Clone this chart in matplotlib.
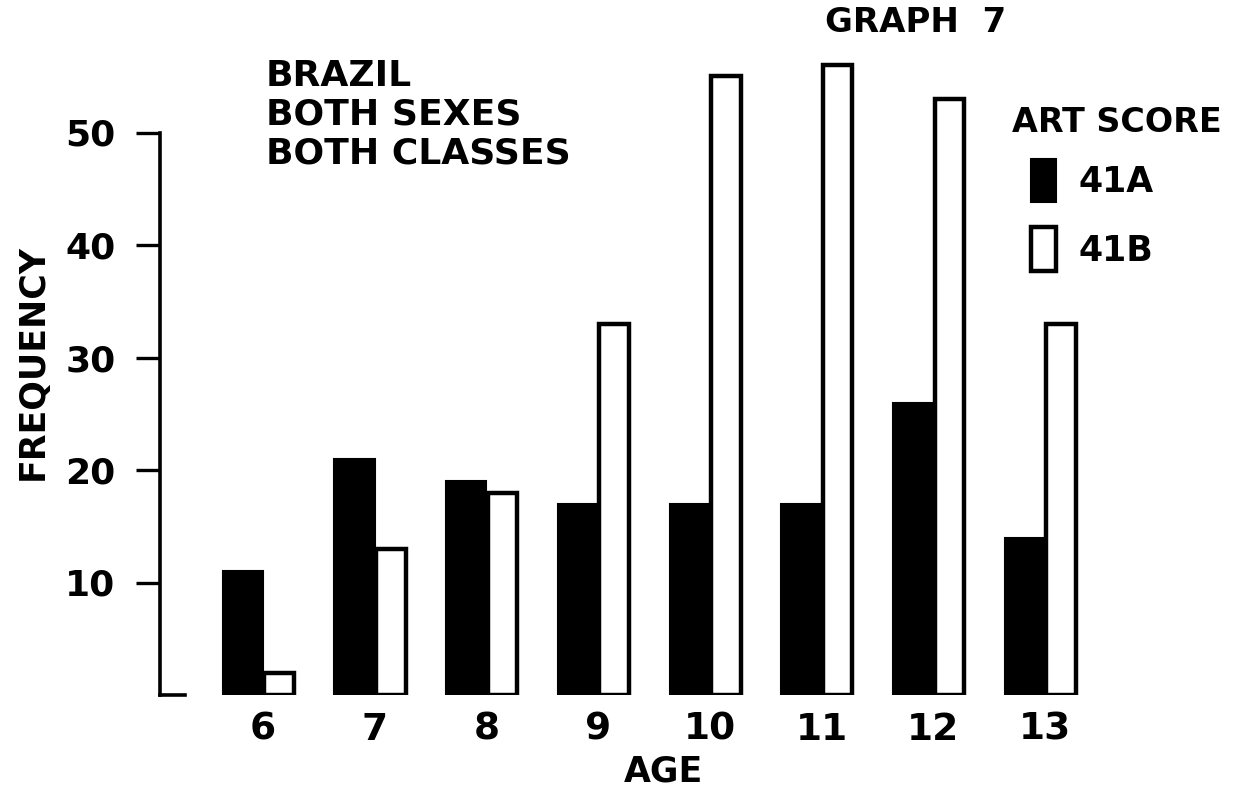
import numpy as np
import matplotlib
matplotlib.use("Agg")
import matplotlib.pyplot as plt

# adatok
ages = [6, 7, 8, 9, 10, 11, 12, 13]
score_41a = [11, 21, 19, 17, 17, 17, 26, 14]
score_41b = [2, 13, 18, 33, 55, 56, 53, 33]
yticks = [10, 20, 30, 40, 50]

plt.rcParams["font.family"] = ["DejaVu Sans"]
plt.rcParams["font.weight"] = "bold"

fig = plt.figure(figsize=(12.37, 7.96), dpi=100)
ax = fig.add_axes([160 / 1237, 101 / 796, 1077 / 1237, 675 / 796])

x = np.array(ages)
b1 = ax.bar(x, score_41a, width=-0.36, align="edge", color="black",
            edgecolor="black", linewidth=1.5, label="41A")
b2 = ax.bar(x + 0.012, score_41b, width=0.265, align="edge", color="white",
            edgecolor="black", linewidth=3.2, label="41B")

ax.set_xlim(5.078, 14.72)
ax.set_ylim(0, 60)

for s in ["top", "right"]:
    ax.spines[s].set_visible(False)
ax.spines["left"].set_linewidth(2.6)
ax.spines["bottom"].set_linewidth(2.6)
ax.spines["left"].set_bounds(0, 50)
ax.spines["bottom"].set_bounds(5.078, 5.30)

ax.set_yticks(yticks)
ax.set_yticklabels([str(v) for v in yticks], fontsize=26)
ax.tick_params(axis="y", length=17, width=2.4, pad=15)
ax.set_xticks(ages)
ax.set_xticklabels([str(a) for a in ages], fontsize=27)
ax.tick_params(axis="x", length=0, pad=12)

fig.text(33 / 1237, 1 - 362 / 796, "FREQUENCY", rotation=90,
         ha="center", va="center", fontsize=25)
fig.text(663 / 1237, 1 - 772 / 796, "AGE", ha="center", va="center",
         fontsize=25)
fig.text(916 / 1237, 1 - 22 / 796, "GRAPH  7", ha="center", va="center",
         fontsize=24.5)
fig.text(266 / 1237, 1 - 59 / 796, "BRAZIL\nBOTH SEXES\nBOTH CLASSES",
         ha="left", va="top", fontsize=26, linespacing=1.18)

# legenda
fig.text(1012 / 1237, 1 - 122 / 796, "ART SCORE", ha="left", va="center",
         fontsize=24)
leg = ax.legend(handles=[b1, b2], labels=["41A", "41B"],
                loc="upper left",
                bbox_to_anchor=(1031 / 1237, 1 - 159 / 796),
                bbox_transform=fig.transFigure, frameon=False,
                fontsize=25, borderpad=0, borderaxespad=0,
                handlelength=0.72, handleheight=1.55, handletextpad=0.66,
                labelspacing=0.72)

fig.savefig("out.png", dpi=100)
